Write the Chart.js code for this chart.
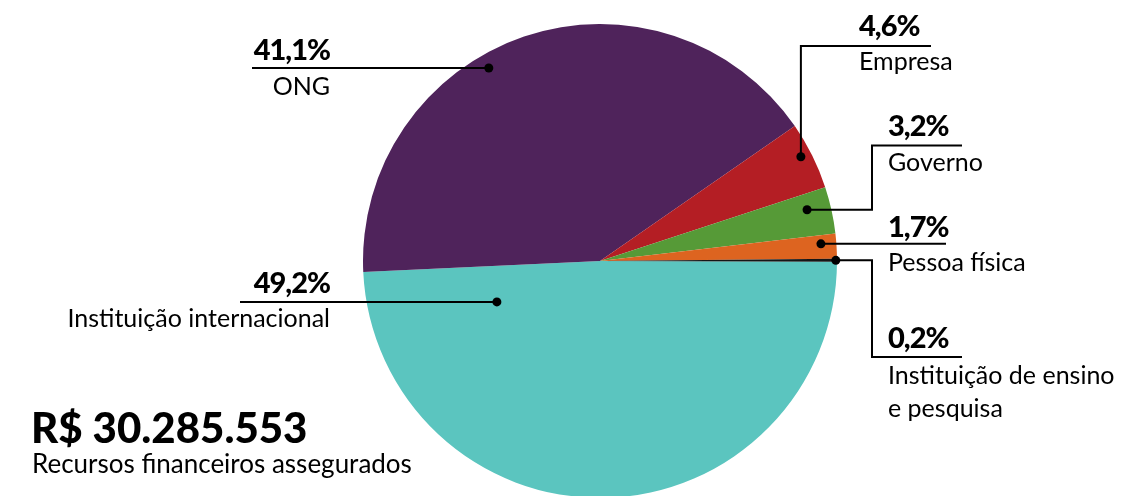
<!DOCTYPE html>
<html>
<head>
<meta charset="utf-8">
<script src="https://cdn.jsdelivr.net/npm/chart.js@4.4.1/dist/chart.umd.min.js"></script>
<style>
    html, body { margin: 0; padding: 0; background: #fff; overflow: hidden; }
    #wrap { width: 1141px; height: 500px; position: relative; }
</style>
</head>
<body>
<div id="wrap"><canvas id="pieChart"></canvas></div>
<script>
// Chart data
const categories = ['Instituição internacional', 'ONG', 'Empresa', 'Governo', 'Pessoa física', 'Instituição de ensino e pesquisa'];
const shares = [49.2, 41.1, 4.6, 3.2, 1.7, 0.2];
const sliceColors = ['#5bc5bf', '#4f235b', '#b41e24', '#569a37', '#dd6420', '#161616'];
const totalLabel = 'R$ 30.285.553';
const totalCaption = 'Recursos financeiros assegurados';

const FONT = 'Lato, "DejaVu Sans", sans-serif';

// label layout: where the dot sits inside the slice, how the leader runs, where the text goes
const labelLayout = [
    { angFrac: 0.893, rFrac: 0.468, leader: { type: 'h', x: 240 },
      x: 330, align: 'right', pctY: 293, nameY: [327] },
    { angFrac: 0.424, rFrac: 0.94, leader: { type: 'h', x: 252 },
      x: 330, align: 'right', pctY: 60, nameY: [95] },
    { angFrac: 0.44, rFrac: 0.955, leader: { type: 'up', y: 46, x2: 931 },
      x: 859, align: 'left', pctY: 36, nameY: [70] },
    { angFrac: 0.37, rFrac: 0.90, leader: { type: 'elbow', x1: 872, y: 145.5, x2: 962 },
      x: 888, align: 'left', pctY: 136, nameY: [171] },
    { angFrac: 0.36, rFrac: 0.935, leader: { type: 'h', x: 946 },
      x: 888, align: 'left', pctY: 237, nameY: [271] },
    { angFrac: 0.5, rFrac: 0.995, leader: { type: 'elbow', x1: 872, y: 357, x2: 962 },
      x: 888, align: 'left', pctY: 348, nameY: [384, 417], lines: ['Instituição de ensino', 'e pesquisa'] }
];

function fmtPct(v) {
    return v.toFixed(1).replace('.', ',') + '%';
}

const leaderLabels = {
    id: 'leaderLabels',
    afterDatasetsDraw(chart) {
        const ctx = chart.ctx;
        const arcs = chart.getDatasetMeta(0).data;
        ctx.save();
        labelLayout.forEach((lab, i) => {
            const arc = arcs[i];
            const ang = arc.startAngle + (arc.endAngle - arc.startAngle) * lab.angFrac;
            const r = arc.outerRadius * lab.rFrac;
            const dx = arc.x + Math.cos(ang) * r;
            const dy = arc.y + Math.sin(ang) * r;

            // leader line
            ctx.strokeStyle = '#000';
            ctx.lineWidth = 2;
            ctx.beginPath();
            ctx.moveTo(dx, dy);
            const L = lab.leader;
            if (L.type === 'h') {
                ctx.lineTo(L.x, dy);
            } else if (L.type === 'up') {
                ctx.lineTo(dx, L.y);
                ctx.lineTo(L.x2, L.y);
            } else if (L.type === 'elbow') {
                ctx.lineTo(L.x1, dy);
                ctx.lineTo(L.x1, L.y);
                ctx.lineTo(L.x2, L.y);
            }
            ctx.stroke();

            // dot
            ctx.fillStyle = '#000';
            ctx.beginPath();
            ctx.arc(dx, dy, 4.5, 0, Math.PI * 2);
            ctx.fill();

            // texts
            ctx.textAlign = lab.align;
            ctx.textBaseline = 'alphabetic';
            ctx.letterSpacing = '-1px';
            ctx.font = '900 29px ' + FONT;
            ctx.fillText(fmtPct(shares[i]), lab.x, lab.pctY);
            ctx.letterSpacing = '0px';
            ctx.font = '25px ' + FONT;
            const lines = lab.lines || [categories[i]];
            lines.forEach((t, k) => ctx.fillText(t, lab.x, lab.nameY[k]));
        });

        // total
        ctx.textAlign = 'left';
        ctx.letterSpacing = '0px';
        ctx.font = '900 42px ' + FONT;
        ctx.fillText(totalLabel, 31, 443);
        ctx.font = '26px ' + FONT;
        ctx.fillText(totalCaption, 32, 473);
        ctx.restore();
    }
};

const canvas = document.getElementById('pieChart');
new Chart(canvas.getContext('2d'), {
    type: 'pie',
    data: {
        labels: categories,
        datasets: [{
            data: shares,
            backgroundColor: sliceColors,
            borderWidth: 0
        }]
    },
    options: {
        responsive: true,
        maintainAspectRatio: false,
        animation: false,
        rotation: 90.2,
        layout: { padding: { top: 24, bottom: 2, left: 363, right: 304 } },
        plugins: {
            legend: { display: false },
            tooltip: { enabled: false }
        }
    },
    plugins: [leaderLabels]
});
</script>
</body>
</html>
